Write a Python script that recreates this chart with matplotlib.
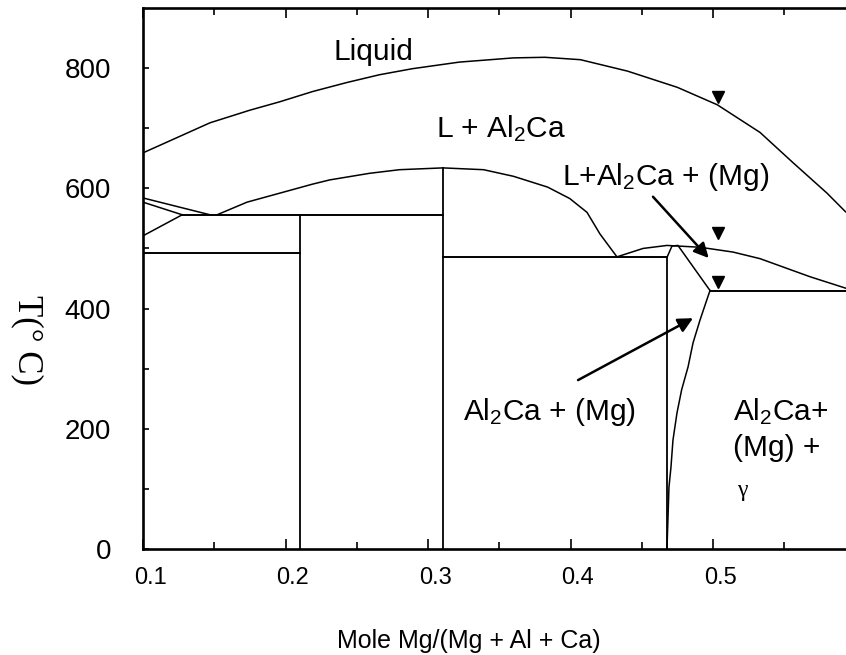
import matplotlib
matplotlib.use("Agg")
import matplotlib.pyplot as plt
from matplotlib.transforms import ScaledTranslation

plt.rcParams['font.family'] = ['Liberation Sans', 'DejaVu Sans']
plt.rcParams['mathtext.fontset'] = 'custom'
plt.rcParams['mathtext.rm'] = 'Liberation Sans'
plt.rcParams['mathtext.it'] = 'Liberation Sans:italic'

# ---------------- data ----------------
# liquidus
liq_x = [0.100, 0.147, 0.175, 0.196, 0.219, 0.243, 0.266, 0.289, 0.322, 0.360, 0.382,
         0.407, 0.440, 0.475, 0.503, 0.533, 0.556, 0.580, 0.593]
liq_y = [659, 709, 730, 744, 761, 776, 789, 799, 810, 817, 818,
         814, 795, 768, 739, 693, 643, 592, 561]
# lower boundary of L + Al2Ca
al2ca_x = [0.152, 0.173, 0.196, 0.219, 0.231, 0.259, 0.280, 0.3105, 0.339, 0.360,
           0.384, 0.3995, 0.4116, 0.4207, 0.4326]
al2ca_y = [556, 577, 592, 607, 614, 625, 631, 634, 631, 620,
           602, 583, 560, 524, 486]
# small lines at the left edge
left1_x = [0.100, 0.147]
left1_y = [584, 556]
left2_x = [0.100, 0.1275]
left2_y = [577, 556]
left3_x = [0.100, 0.1275]
left3_y = [521, 556]
# dome of L + Al2Ca + (Mg)
dome_x = [0.4326, 0.4509, 0.4677, 0.4909, 0.514, 0.533, 0.568, 0.593]
dome_y = [486, 500, 505, 502, 494, 483, 453, 434]
# peak of the (Mg) region
peak_x = [0.4677, 0.4712, 0.4754, 0.4979]
peak_y = [485, 504, 505, 430]
# (Mg) solvus
solvus_x = [0.4979, 0.4956, 0.4909, 0.4860, 0.4825, 0.4780, 0.4747, 0.4719,
            0.4705, 0.4691, 0.4677]
solvus_y = [430, 414, 381, 343, 303, 265, 226, 181, 136, 103, 0]
# horizontal invariant lines: temperature, x start, x end
iso_T = [556, 492, 485, 430]
iso_x0 = [0.1275, 0.100, 0.3105, 0.4979]
iso_x1 = [0.3105, 0.2102, 0.4677, 0.600]
# vertical compound lines: composition, top temperature
vert_x = [0.2102, 0.3105, 0.4677]
vert_top = [556, 634, 485]
# experimental points
tri_x = [0.5035, 0.5035, 0.5035]
tri_y = [752, 526, 444]

x_ticks = [0.1, 0.2, 0.3, 0.4, 0.5]
x_ticklabels = ['0.1', '0.2', '0.3', '0.4', '0.5']
y_ticks = [0, 200, 400, 600, 800]

# ---------------- figure ----------------
fig = plt.figure(figsize=(8.46, 6.55), dpi=100)
ax = fig.add_axes([143/846, 106/655, 712.5/846, 541/655])
ax.set_xlim(0.1, 0.6)
ax.set_ylim(0, 900)

lw = 1.1
k = 'black'
ax.plot(liq_x, liq_y, color=k, lw=lw)
ax.plot(al2ca_x, al2ca_y, color=k, lw=lw)
for xs, ys in [(left1_x, left1_y), (left2_x, left2_y), (left3_x, left3_y)]:
    ax.plot(xs, ys, color=k, lw=lw)
ax.plot(dome_x, dome_y, color=k, lw=lw)
ax.plot(peak_x, peak_y, color=k, lw=lw)
ax.plot(solvus_x, solvus_y, color=k, lw=lw)
for T, a, b in zip(iso_T, iso_x0, iso_x1):
    ax.plot([a, b], [T, T], color=k, lw=1.4)
for xv, top in zip(vert_x, vert_top):
    ax.plot([xv, xv], [0, top], color=k, lw=1.3)
ax.plot(tri_x, tri_y, linestyle='none', marker='v', color=k, markersize=9)

# labels inside the diagram
fs = 21.5
ax.text(0.262, 813, 'Liquid', fontsize=fs, ha='center', va='baseline')
ax.text(0.3512, 685, r'L + Al$_\mathrm{2}$Ca', fontsize=fs, ha='center', va='baseline')
ax.text(0.394, 606, r'L+Al$_\mathrm{2}$Ca + (Mg)', fontsize=fs, ha='left', va='baseline')
ax.text(0.3246, 214, r'Al$_\mathrm{2}$Ca + (Mg)', fontsize=fs, ha='left', va='baseline')
ax.text(0.514, 214, r'Al$_\mathrm{2}$Ca+', fontsize=fs, ha='left', va='baseline')
ax.text(0.514, 154, '(Mg) +', fontsize=fs, ha='left', va='baseline')
ax.text(0.5168, 97, 'γ', fontsize=17, ha='left', va='center',
        family=['Liberation Serif', 'DejaVu Serif'])

arrow = dict(arrowstyle='-|>', lw=1.8, color=k, mutation_scale=22, shrinkA=0, shrinkB=0)
ax.annotate('', xy=(0.497, 484), xytext=(0.4579, 586), arrowprops=arrow)
ax.annotate('', xy=(0.486, 384), xytext=(0.4053, 281), arrowprops=arrow)

# axes styling
for s in ax.spines.values():
    s.set_linewidth(1.9)
ax.set_xticks(x_ticks)
ax.set_xticklabels(x_ticklabels)
ax.set_xticks([0.15, 0.25, 0.35, 0.45, 0.55], minor=True)
ax.set_yticks(y_ticks)
ax.set_yticks([100, 300, 500, 700], minor=True)
ax.tick_params(axis='both', which='both', direction='in', top=True, right=True)
ax.tick_params(axis='x', which='major', length=7, width=1.2, labelsize=17, pad=13)
ax.tick_params(axis='x', which='minor', length=5, width=1.2)
ax.tick_params(axis='y', which='both', length=4, width=1.2, labelsize=20, pad=23)
for lab in ax.get_xticklabels():
    lab.set_transform(lab.get_transform() + ScaledTranslation(0.07, 0, fig.dpi_scale_trans))

fig.text(27/846, 1 - 340/655, 'T(° C)', rotation=270, fontsize=25, ha='center', va='center',
         family=['Liberation Serif', 'DejaVu Serif'])
fig.text(468.5/846, 7/655, 'Mole Mg/(Mg + Al + Ca)', fontsize=18, ha='center', va='baseline')

fig.savefig('out.png', dpi=100)
